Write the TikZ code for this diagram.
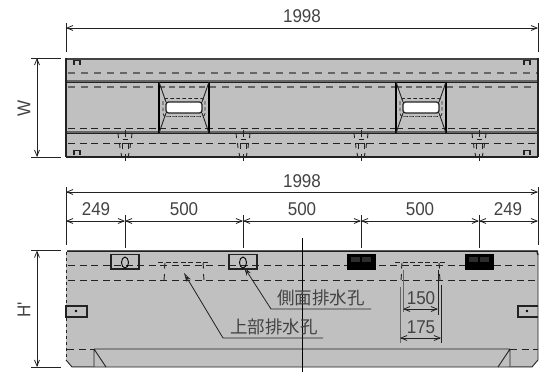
\documentclass[tikz,border=0pt]{standalone}
\usepackage{fontspec}
\newfontfamily\dimf[FakeStretch=0.92]{Liberation Sans}
\newfontfamily\jpf{Noto Sans CJK JP}
\usetikzlibrary{arrows.meta}
\definecolor{body}{HTML}{C0C0C0}
\definecolor{ink}{HTML}{222222}
\definecolor{dgrey}{HTML}{666666}
\definecolor{speck}{HTML}{2C2C2C}
\tikzset{
  dimline/.style={draw=ink,line width=0.8pt,{Straight Barb[length=6pt,width=5pt]}-{Straight Barb[length=6pt,width=5pt]}},
  ext/.style={draw=ink,line width=0.9pt},
  leader/.style={draw=ink,line width=0.8pt,{Stealth[length=9pt,width=5pt,open,fill=body]}-},
  dimtxt/.style={font=\dimf\fontsize{18.5}{18.5}\selectfont,text=ink!85,inner sep=0pt},
  jptxt/.style={font=\jpf\fontsize{17.5}{17.5}\selectfont,text=ink!85,inner sep=0pt},
  edge/.style={draw=ink,line width=1.2pt},
  hid/.style={draw=ink,line width=0.9pt,dash pattern=on 7pt off 4.5pt},
  hidg/.style={draw=dgrey,line width=1.3pt,dash pattern=on 7pt off 6pt},
}
\begin{document}
\begin{tikzpicture}[x=1pt,y=-1pt]
\useasboundingbox (0,0) rectangle (551,372);
% ---------- plan view
\fill[body] (66,58) rectangle (538,157);
\draw[draw=dgrey,line width=2pt] (66,81) -- (538,81);
\draw[draw=ink,line width=0.7pt] (66,82.5) -- (538,82.5);
\draw[draw=dgrey,line width=1.4pt] (66,132) -- (538,132);
\draw[draw=ink,line width=0.9pt] (66,133.5) -- (538,133.5);
\draw[hidg] (68,73) -- (538,73);
\draw[hidg] (68,87) -- (159,87) (209,87) -- (396,87) (446,87) -- (538,87);
\draw[hid] (68,128) -- (538,128);
\draw[hid] (68,143) -- (538,143);
\draw[draw=ink!85,line width=2pt] (66,58.5) -- (538,58.5);
\draw[edge] (66,58) -- (66,157);
\draw[edge] (538,58) -- (538,157);
\draw[draw=ink,line width=1.5pt] (66,157) -- (538,157);
% windows
\foreach \a/\b in {159/209,396/446}{
  \pgfmathsetmacro{\ia}{\a+7}\pgfmathsetmacro{\ib}{\b-7}
  \pgfmathsetmacro{\oa}{\a+4}\pgfmathsetmacro{\ob}{\b-4}
  \fill[body] (\a,83) rectangle (\b,133);
  \draw[hidg,line width=1.1pt,dash pattern=on 6pt off 4pt] (\a,87) -- (\b,87);
  \draw[hid] (\a,128) -- (\b,128);
  \draw[draw=black,line width=0.9pt] (\a,82.5) -- (\b,82.5);
  \draw[draw=dgrey,line width=2pt] (\a+1,132) -- (\b-1,132);
  \draw[draw=black,line width=1.4pt] (\a,82) -- (\a,133) (\b,82) -- (\b,133);
  \draw[draw=ink,line width=0.9pt] (\a,82) -- (\ia,102) (\b,82) -- (\ib,102)
    (\a,133) -- (\ia,113) (\b,133) -- (\ib,113);
  \draw[fill=white,draw=ink,line width=1.3pt,rounded corners=2.5pt] (\ia,102) rectangle (\ib,113);
  \draw[draw=ink,line width=0.7pt,dash pattern=on 3.5pt off 2.5pt,rounded corners=3pt] (\oa,98.5) rectangle (\ob,116.5);
  \draw[draw=dgrey,line width=1.1pt,dash pattern=on 3.5pt off 2.5pt] (\oa+3,116.5) -- (\ob-3,116.5);
}
% bolts
\foreach \p in {125,243,361,479}{
  \draw[draw=ink,line width=0.9pt] (\p-7,133) -- (\p-6.5,138) (\p+7,133) -- (\p+6.5,138)
     (\p-5.5,143) -- (\p-5,148) (\p+5.5,143) -- (\p+5,148)
     (\p-4,153) -- (\p-3,158) (\p+4,153) -- (\p+3,158);
  \draw[draw=ink,line width=0.8pt] (\p-3,149) -- (\p-3,143) -- (\p+3,143) -- (\p+3,149)
     (\p-2.5,139.5) -- (\p+2.5,139.5) (\p-3,133) -- (\p+3,133);
  \draw[draw=ink,line width=0.9pt] (\p,130) -- (\p,137) (\p,154) -- (\p,161);
}
\foreach \p in {77,527}{
  \draw[draw=ink,line width=1.1pt] (\p-3,60) -- (\p-3,65) (\p+3,60) -- (\p+3,65) (\p-4,60.5) -- (\p+4,60.5);
  \draw[draw=ink,line width=1.1pt] (\p-3,150) -- (\p-3,155) (\p+3,150) -- (\p+3,155) (\p-4,150.5) -- (\p+4,150.5);
}
% ---------- elevation
\fill[body] (68,250) -- (538,250) -- (538,360) -- (532,367) -- (72,367) -- (66,360) -- (66,252) -- cycle;
\draw[draw=ink,line width=1.5pt] (67,251) -- (537,251) -- (538,255);
\draw[draw=ink,line width=0.9pt] (538,255) -- (538,360) -- (532,367) -- (72,367) -- (66,360);
\draw[hid,dash pattern=on 3pt off 3pt] (66.5,252) -- (66.5,360);
\draw[hid] (68,265) -- (538,265);
\draw[hid] (68,280) -- (538,280);
\draw[hid] (67,349) -- (94,349) (510,349) -- (538,349);
\draw[draw=ink,line width=0.9pt] (94,349) -- (510,349) (94,349) -- (94,367) (510,349) -- (510,367)
   (94,349) -- (106,367) (510,349) -- (498,367);
\draw[draw=dgrey,line width=1pt] (72,366) -- (94,366) (510,366) -- (532,366);
% upper drains
\foreach \a/\b in {158/210,395/446}{
  \draw[draw=ink,line width=0.9pt,dash pattern=on 5pt off 2.5pt] (\a,262.5) -- (\b,262.5);
  \draw[draw=ink,line width=0.9pt] (\a+7,263) -- (\a+6.5,268.5) (\b-7,263) -- (\b-6.5,268.5)
     (\a+6.5,274) -- (\a+6,280) (\b-6.5,274) -- (\b-6,280);
}
% drain boxes
\foreach \p in {125,243}{
  \draw[draw=ink,line width=1.6pt] (\p-14,254.5) rectangle (\p+14,269);
  \draw[draw=black,line width=0.9pt] (\p,262.5) ellipse (3.5pt and 5.5pt);
}
\foreach \p in {361,479}{
  \fill[black] (\p-14.5,254) rectangle (\p+14.5,269.5);
  \fill[speck] (\p-10,257) rectangle (\p-1,262);
  \fill[speck] (\p+1,257) rectangle (\p+10,262);
}
% side small boxes
\draw[draw=ink,line width=1.2pt] (66,306) rectangle (87,317);
\fill[black] (76,311) circle (1.3pt);
\draw[draw=ink,line width=1.2pt] (538,306) -- (518,306) -- (518,317) -- (538,317);
\fill[black] (527,311) circle (1.3pt);
% centre line
\coordinate (cla) at (302,238);
\coordinate (clb) at (302,372);
\draw[draw=black,line width=0.8pt] (cla) -- (clb);
% ---------- dimension coordinates
\coordinate (tl) at (66,28);\coordinate (tr) at (538,28);
\draw[ext] (66,23) -- (66,52) (538,23) -- (538,52);
\draw[dimline] (tl) -- (tr);
\node[dimtxt] (t1) at (302,16) {1998};
\coordinate (wa) at (37,58);\coordinate (wb) at (37,157);
\draw[ext] (31,58) -- (61,58) (31,157.5) -- (61,157.5);
\draw[dimline] (wa) -- (wb);
\node[dimtxt,rotate=90] (t2) at (24,108) {W};
\coordinate (m1) at (66,192);\coordinate (m2) at (538,192);
\draw[ext] (66,187) -- (66,245) (538,187) -- (538,245);
\draw[dimline] (m1) -- (m2);
\node[dimtxt] (t3) at (302,181) {1998};
\coordinate (d0) at (66,221);\coordinate (d1) at (125,221);\coordinate (d2) at (243,221);
\coordinate (d3) at (361,221);\coordinate (d4) at (479,221);\coordinate (d5) at (538,221);
\foreach \p in {125,243,361,479}{\draw[ext] (\p,215) -- (\p,248);}
\draw[dimline] (d0) -- (d1);\draw[dimline] (d1) -- (d2);\draw[dimline] (d2) -- (d3);
\draw[dimline] (d3) -- (d4);\draw[dimline] (d4) -- (d5);
\node[dimtxt] (a1) at (96,209.5) {249};
\node[dimtxt] (a2) at (184,209.5) {500};
\node[dimtxt] (a3) at (302,209.5) {500};
\node[dimtxt] (a4) at (420,209.5) {500};
\node[dimtxt] (a5) at (508,209.5) {249};
\coordinate (ha) at (37,250.5);\coordinate (hb) at (37,367);
\draw[ext] (31,250.5) -- (61,250.5) (31,367) -- (61,367);
\draw[dimline] (ha) -- (hb);
\node[dimtxt,rotate=90] (t4) at (24,310) {H'};
% 150 / 175
\draw[draw=dgrey,line width=1pt] (403,270) -- (403,312);
\draw[ext] (438,270) -- (438,315);
\draw[draw=dgrey,line width=1pt] (400,287) -- (400,343);
\draw[ext] (441,285) -- (441,343);
\coordinate (e1) at (403,309);\coordinate (e2) at (438,309);
\coordinate (f1) at (400,338);\coordinate (f2) at (441,338);
\draw[dimline] (e1) -- (e2);
\draw[dimline] (f1) -- (f2);
\node[dimtxt] (b1) at (421,298) {150};
\node[dimtxt] (b2) at (421,327) {175};
% leaders
\coordinate (s1) at (244,267);\coordinate (s2) at (271,309);\coordinate (s3) at (371,309);
\draw[leader] (s1) -- (s2) -- (s3);
\node[jptxt] (j1) at (321,298) {側面排水孔};
\coordinate (u1) at (184,273);\coordinate (u2) at (223,338);\coordinate (u3) at (323,338);
\draw[leader] (u1) -- (u2) -- (u3);
\node[jptxt] (j2) at (274,327) {上部排水孔};
\end{tikzpicture}
\end{document}
